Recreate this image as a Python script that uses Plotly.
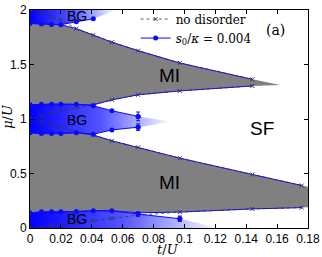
import plotly.graph_objects as go

# ---------------- data ----------------
T = [0, 0.0074, 0.0139, 0.02, 0.03, 0.041, 0.053, 0.07, 0.097, 0.144, 0.176]

# no-disorder Mott lobe boundaries
nd_l1_lo = [0, 0.007, 0.016, 0.029, 0.045, 0.068, 0.088, 0.118, 0.146, 0.175, 0.187]
nd_l1_hi = [1.0, 0.974, 0.95, 0.925, 0.884, 0.853, 0.80, 0.74, 0.641, 0.491, 0.39]
nd_l2_lo = [1.0, 1.033, 1.055, 1.076, 1.105, 1.13, 1.175, 1.222, 1.258, 1.303]
nd_l2_hi = [2.0, 1.97, 1.94, 1.91, 1.829, 1.77, 1.705, 1.627, 1.514, 1.364]

# Mott-insulator boundaries with disorder (grey region)
mi_l1_lo = [0.137, 0.148, 0.148, 0.148, 0.151, 0.158, 0.158, 0.14, 0.146, 0.175, 0.187]
mi_l1_hi = [0.875, 0.866, 0.866, 0.866, 0.875, 0.853, 0.80, 0.74, 0.641, 0.491, 0.39]
mi_l2_lo = [1.13, 1.136, 1.136, 1.136, 1.136, 1.13, 1.175, 1.222, 1.258, 1.303]
mi_l2_hi = [1.877, 1.871, 1.868, 1.865, 1.829, 1.77, 1.705, 1.627, 1.514, 1.364]
lobe1_end = (0.18, 0.19, 0.378)     # t, lower, upper at the frame edge
lobe2_tip = (0.162, 1.312)

# Bose-glass boundaries (s0/kappa = 0.004)
bg0 = [0.137, 0.148, 0.148, 0.148, 0.151, 0.158, 0.158, 0.128, 0.085]
bg0_err = {7: 0.02, 8: 0.025}
bg1_lo = [0.875, 0.866, 0.866, 0.866, 0.875, 0.86, 0.90, 0.925]
bg1_lo_err = {7: 0.03}
bg1_hi = [1.13, 1.136, 1.136, 1.136, 1.136, 1.121, 1.076, 1.024]
bg1_hi_err = {7: 0.04}
bg2 = [1.877, 1.871, 1.868, 1.865, 1.892, 1.919]
bg_fade = {"bg0": (0.122, 0.0), "bg1": (0.092, 0.975), "bg2": (0.056, 2.0)}

xticks = [0, 0.02, 0.04, 0.06, 0.08, 0.1, 0.12, 0.14, 0.16, 0.18]
xticktext = ["0", "0.02", "0.04", "0.06", "0.08", "0.1", "0.12", "0.14", "0.16", "0.18"]
yticks = [0, 0.5, 1, 1.5, 2]
yticktext = ["0", "0.5", "1", "1.5", "2"]

BLUE = "#0a0aff"
GREY = "#808080"
fig = go.Figure()

def grad(stop):
    return dict(type="horizontal",
                colorscale=[[0, "rgb(0,0,255)"], [0.5, "rgb(85,85,255)"], [1, "rgb(255,255,255)"]],
                start=0, stop=stop)

# Bose-glass gradient regions
t0, m0 = bg_fade["bg0"]
fig.add_trace(go.Scatter(x=[0] + T[:len(bg0)] + [t0], y=[0] + bg0 + [m0], fill="toself",
                         fillgradient=grad(t0), line=dict(width=0), mode="lines",
                         showlegend=False, hoverinfo="skip"))
t1, m1 = bg_fade["bg1"]
n1 = len(bg1_hi)
fig.add_trace(go.Scatter(x=T[:n1] + [t1] + T[:n1][::-1], y=bg1_hi + [m1] + bg1_lo[::-1],
                         fill="toself", fillgradient=grad(t1), line=dict(width=0), mode="lines",
                         showlegend=False, hoverinfo="skip"))
t2, m2 = bg_fade["bg2"]
fig.add_trace(go.Scatter(x=[0] + T[:len(bg2)] + [t2], y=[2.0] + bg2 + [m2], fill="toself",
                         fillgradient=grad(t2), line=dict(width=0), mode="lines",
                         showlegend=False, hoverinfo="skip"))

# grey Mott regions
fig.add_trace(go.Scatter(x=T + [lobe1_end[0], lobe1_end[0]] + T[::-1],
                         y=mi_l1_lo + [lobe1_end[1], lobe1_end[2]] + mi_l1_hi[::-1],
                         fill="toself", fillcolor=GREY, line=dict(width=0), mode="lines",
                         showlegend=False, hoverinfo="skip"))
n2 = len(mi_l2_lo)
fig.add_trace(go.Scatter(x=T[:n2] + [lobe2_tip[0]] + T[:n2][::-1],
                         y=mi_l2_lo + [lobe2_tip[1]] + mi_l2_hi[::-1],
                         fill="toself", fillcolor=GREY, line=dict(width=0), mode="lines",
                         showlegend=False, hoverinfo="skip"))

# blue MI boundary lines (with disorder)
for ys in (mi_l1_lo, mi_l1_hi, mi_l2_lo, mi_l2_hi):
    fig.add_trace(go.Scatter(x=T[:len(ys)], y=ys, mode="lines", line=dict(color=BLUE, width=1),
                             showlegend=False, hoverinfo="skip"))

# no-disorder lines
for i, ys in enumerate((nd_l1_lo, nd_l1_hi, nd_l2_lo, nd_l2_hi)):
    fig.add_trace(go.Scatter(x=T[:len(ys)], y=ys, mode="lines+markers", name="no disorder",
                             line=dict(color="#333333", width=0.8, dash="dot"),
                             marker=dict(symbol="x-thin", size=4, line=dict(color="#333366", width=1)),
                             showlegend=(i == 0)))

# Bose-glass boundary lines with circles
for i, ys in enumerate((bg0, bg1_lo, bg1_hi, bg2)):
    fig.add_trace(go.Scatter(x=T[:len(ys)], y=ys, mode="lines+markers",
                             name="<i>s</i><sub>0</sub>/<i>κ</i> = 0.004",
                             line=dict(color=BLUE, width=1),
                             marker=dict(symbol="circle", size=5, color=BLUE),
                             showlegend=(i == 0)))

# error bars
for ys, errs in ((bg0, bg0_err), (bg1_lo, bg1_lo_err), (bg1_hi, bg1_hi_err)):
    idx = sorted(errs)
    fig.add_trace(go.Scatter(x=[T[k] for k in idx], y=[ys[k] for k in idx], mode="markers",
                             marker=dict(symbol="circle", size=5, color=BLUE),
                             error_y=dict(type="data", array=[errs[k] for k in idx],
                                          color=BLUE, thickness=1, width=2),
                             showlegend=False, hoverinfo="skip"))

# phase labels
labels = [("MI", 0.09, 1.395, 19), ("MI", 0.09, 0.416, 19), ("SF", 0.15, 0.91, 19),
          ("BG", 0.0307, 1.944, 14), ("BG", 0.0307, 0.99, 14), ("BG", 0.0307, 0.086, 14)]
for txt, x, y, s in labels:
    fig.add_annotation(x=x, y=y, text=txt, showarrow=False,
                       font=dict(family="Liberation Sans", size=s, color="black"))
fig.add_annotation(x=0.925, y=0.955, xref="paper", yref="paper", text="(a)", showarrow=False,
                   font=dict(family="DejaVu Serif", size=14, color="black"))
# axis titles
fig.add_annotation(x=0.496, y=-0.1, xref="paper", yref="paper", text="<i>t</i>/<i>U</i>",
                   showarrow=False, yanchor="middle",
                   font=dict(family="DejaVu Serif", size=13, color="black"))
fig.add_annotation(x=-0.079, y=0.51, xref="paper", yref="paper", text="<i>μ</i>/<i>U</i>",
                   showarrow=False, textangle=-90, xanchor="center",
                   font=dict(family="DejaVu Serif", size=13, color="black"))

axis_common = dict(showline=True, linecolor="black", linewidth=1, mirror="ticks", ticks="inside",
                   ticklen=4, tickcolor="black", showgrid=False, zeroline=False, automargin=False,
                   tickfont=dict(family="Liberation Sans", size=12, color="black"))
fig.update_xaxes(range=[0, 0.18], tickvals=xticks, ticktext=xticktext, **axis_common)
fig.update_yaxes(range=[0, 2], tickvals=yticks, ticktext=yticktext, **axis_common)
fig.update_layout(width=322, height=257, margin=dict(l=30, r=14, t=5, b=29),
                  paper_bgcolor="white", plot_bgcolor="white",
                  legend=dict(x=0.38, y=1.025, xanchor="left", yanchor="top", itemwidth=30,
                              bgcolor="rgba(0,0,0,0)", tracegroupgap=0,
                              font=dict(family="DejaVu Serif", size=12, color="black")))
fig.write_html("out.html", config={"displayModeBar": False},
               post_script="document.body.style.margin='0';")
